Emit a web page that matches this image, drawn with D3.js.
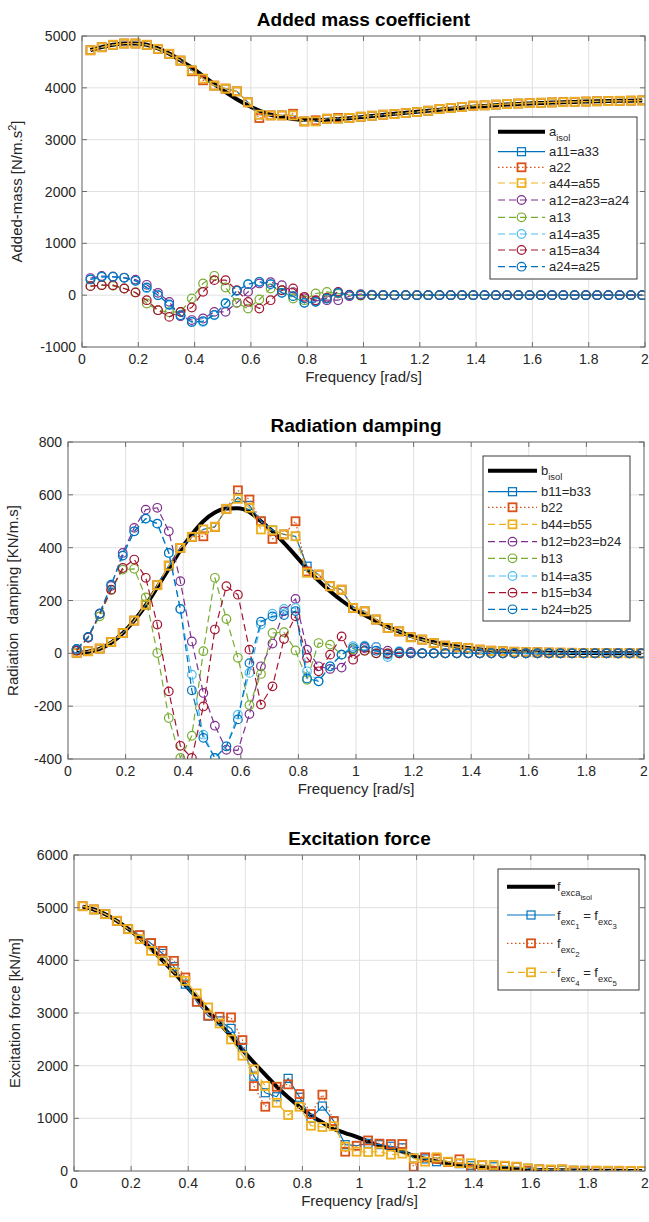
<!DOCTYPE html>
<html><head><meta charset="utf-8">
<script src="https://cdn.jsdelivr.net/npm/d3@7"></script>
<style>body{margin:0;background:#fff} svg{display:block} text{font-family:"Liberation Sans",Arial,Helvetica,sans-serif;fill:#262626}</style>
</head><body><svg id="c" width="649" height="1222"></svg>
<script>
// ---------- DATA ----------
const freq = [0.03,0.07,0.11,0.15,0.19,0.23,0.27,0.31,0.35,0.39,0.43,0.47,0.51,0.55,0.59,0.63,0.67,0.71,0.75,0.79,0.83,0.87,0.91,0.95,0.99,1.03,1.07,1.11,1.15,1.19,1.23,1.27,1.31,1.35,1.39,1.43,1.47,1.51,1.55,1.59,1.63,1.67,1.71,1.75,1.79,1.83,1.87,1.91,1.95,1.99];
const xTicks = [0,0.2,0.4,0.6,0.8,1,1.2,1.4,1.6,1.8,2];

// Added mass
const aIsol = [4730,4785,4830,4855,4855,4830,4760,4660,4530,4390, 4230,4070,3920,3780,3660,3560,3480,3430,3400,3385, 3380,3385,3398,3415,3435,3455,3477,3498,3518,3538, 3558,3578,3598,3616,3634,3650,3664,3677,3688,3698, 3707,3715,3722,3729,3735,3740,3745,3749,3753,3757];
const a11 = [4725,4783,4830,4855,4855,4830,4752,4656,4526,4339, 4178,4043,3985,3932,3720,3482,3468,3468,3468,3352, 3352,3404,3404,3418,3443,3462,3482,3495,3514,3534, 3559,3591,3611,3630,3656,3662,3676,3687,3697,3705, 3712,3718,3724,3730,3735,3740,3745,3749,3753,3757];
const a22 = [4725,4783,4830,4855,4855,4830,4752,4656,4526,4320, 4145,4043,3985,3932,3720,3418,3468,3468,3500,3352, 3374,3404,3420,3418,3443,3462,3482,3495,3514,3534, 3559,3591,3611,3630,3656,3662,3676,3687,3697,3705, 3712,3718,3724,3730,3735,3740,3745,3749,3753,3757];
const a44 = [4725,4783,4830,4855,4855,4830,4752,4656,4526,4339, 4178,4043,3985,3932,3720,3482,3468,3468,3468,3352, 3352,3404,3404,3418,3443,3462,3482,3495,3514,3534, 3559,3591,3611,3630,3656,3662,3676,3687,3697,3705, 3712,3718,3724,3730,3735,3740,3745,3749,3753,3757];
const a12 = [330,370,360,340,300,200,45,-129,-406,-480, -450,-322,-322,-148,64,226,250,193,60,-60, -110,-97,-97,-20,20,10,5,0,0,0, 0,0,0,0,0,0,0,0,0,0, 0,0,0,0,0,0,0,0,0,0];
const a13 = [174,193,180,129,52,-161,-290,-330,-322,-64, 226,374,148,-148,-258,-84,129,96,-64,-97, 32,64,30,0,-10,5,0,0,0,0, 0,0,0,0,0,0,0,0,0,0, 0,0,0,0,0,0,0,0,0,0];
const a14 = [303,354,354,335,277,135,0,-193,-387,-516, -516,-387,-148,84,213,258,213,45,-19,-148, -129,-64,45,0,10,0,0,0,0,0, 0,0,0,0,0,0,0,0,0,0, 0,0,0,0,0,0,0,0,0,0];
const a15 = [174,193,193,129,52,-97,-290,-419,-322,-238, 64,290,290,96,-129,-258,-97,96,129,-32, -97,-50,64,10,0,0,0,0,0,0, 0,0,0,0,0,0,0,0,0,0, 0,0,0,0,0,0,0,0,0,0];
const a24 = [303,354,354,335,277,150,0,-180,-387,-516, -500,-380,-160,84,213,258,213,45,-19,-148, -129,-64,45,0,10,0,0,0,0,0, 0,0,0,0,0,0,0,0,0,0, 0,0,0,0,0,0,0,0,0,0];
const aTicks = [-1000,0,1000,2000,3000,4000,5000];

// Radiation damping
const bIsol = [1,6,17,40,76,124,182,250,320,390, 450,500,533,548,549,535,500,462,418,370, 320,275,235,200,170,145,122,100,82,66, 53,42,33,26,20,15,11,8,6,4.5, 3.5,2.5,2,1.5,1,1,0.5,0.5,0,0];
const b11 = [2,8,18,43,77,124,184,258,332,399, 441,469,479,547,590,560,500,466,450,443, 330,298,254,241,172,159,128,96,83,61, 52,39,29,24,20,14,10,8,6,5, 4,3,2.5,2,1.5,1,1,0.5,0.5,0];
const b22 = [2,8,18,43,77,124,184,258,332,399, 441,443,479,547,617,582,500,433,450,500, 310,298,254,241,172,159,128,96,83,61, 52,39,29,24,20,14,10,8,6,5, 4,3,2.5,2,1.5,1,1,0.5,0.5,0];
const b44 = [2,8,18,43,77,124,184,258,332,399, 441,469,479,547,585,551,469,466,450,443, 305,298,254,241,172,159,128,96,83,61, 52,39,29,24,20,14,10,8,6,5, 4,3,2.5,2,1.5,1,1,0.5,0.5,0];
const b12 = [15,60,150,255,380,475,544,551,462,273, 45,-150,-274,-365,-367,-230,-49,37,159,206, 14,-49,-59,-54,10,20,24,10,0,5, 0,0,0,0,0,0,0,0,0,0, 0,0,0,0,0,0,0,0,0,0];
const b13 = [10,60,140,240,317,320,212,1,-245,-396, -312,8,286,130,-17,-196,-78,77,80,11, -100,39,33,-5,15,10,0,0,0,0, 0,0,0,0,0,0,0,0,0,0, 0,0,0,0,0,0,0,0,0,0];
const b14 = [17,62,150,260,370,462,510,491,380,168, -81,-308,-396,-352,-232,-74,109,150,168,172, -68,-106,-49,-5,27,29,24,-14,8,0, 0,0,0,0,0,0,0,0,0,0, 0,0,0,0,0,0,0,0,0,0];
const b15 = [10,60,150,241,323,355,286,109,-144,-350, -396,-201,90,254,222,14,-194,-125,54,140, -17,-68,-5,64,-24,10,0,0,0,0, 0,0,0,0,0,0,0,0,0,0, 0,0,0,0,0,0,0,0,0,0];
const b24 = [17,62,150,260,370,462,510,491,380,168, -140,-320,-396,-352,-250,-37,120,140,145,160, -95,-106,-49,-5,20,25,10,-5,5,0, 0,0,0,0,0,0,0,0,0,0, 0,0,0,0,0,0,0,0,0,0];
const bTicks = [-400,-200,0,200,400,600,800];

// Excitation force
const fIsol = [5020,4965,4875,4750,4600,4420,4220,4000,3770,3530, 3290,3040,2800,2560,2300,2060,1830,1600,1400,1220, 1050,920,800,720,650,560,480,420,370,290, 230,180,145,115,90,70,55,43,34,27, 21,16,12,9,7,5,4,3,2,2];
const fExc1 = [5028,4966,4877,4750,4592,4478,4320,4130,3880,3548, 3213,2941,2850,2708,2347,1800,1486,1410,1759,1400, 1000,1233,945,500,480,525,500,470,440,241, 230,177,177,140,100,114,80,90,75,51, 35,25,20,12,8,6,5,4,3,2];
const fExc2 = [5028,4966,4877,4750,4592,4478,4330,4180,3990,3675, 3213,2950,2928,2916,2486,1613,1220,1600,1645,1461, 1080,1450,950,367,480,580,520,512,512,82, 260,230,170,222,19,110,0,95,80,10, 30,20,30,5,5,4,3,3,2,2];
const fExc4 = [5028,4966,4877,4750,4592,4402,4180,3990,3770,3611, 3372,3106,2802,2499,2190,1930,1613,1296,1063,1220, 860,835,850,461,367,360,367,310,330,241, 177,260,177,150,146,114,114,101,82,51, 32,30,32,10,6,5,5,4,3,2];
const fTicks = [0,1000,2000,3000,4000,5000,6000];

// ---------- STYLE ----------
const COL = {blue:"#0072BD", orange:"#D95319", yellow:"#EDB120", purple:"#7E2F8E", green:"#77AC30", cyan:"#4DBEEE", red:"#A2142F"};
const svg = d3.select("#c");
const FONT_TICK = 14;

function seg(t, lvl){ return {t, lvl: lvl||0}; }

function drawRich(g, x, y, parts, size) {
  const t = g.append("text").attr("x", x).attr("y", y).attr("font-size", size);
  let cur = 0;
  const offs = [0, 5, 9];
  const sizes = [size, size*0.72, size*0.6];
  parts.forEach(p => {
    const dy = offs[p.lvl] - offs[cur];
    t.append("tspan").attr("dy", dy).attr("font-size", sizes[p.lvl]).text(p.t);
    cur = p.lvl;
  });
  return t;
}

function drawMarker(g, type, x, y, color, sw) {
  if (type === "square") {
    g.append("rect").attr("x", x-4).attr("y", y-4).attr("width",8).attr("height",8)
      .attr("fill","none").attr("stroke",color).attr("stroke-width",sw);
  } else if (type === "circle") {
    g.append("circle").attr("cx",x).attr("cy",y).attr("r",4.3)
      .attr("fill","none").attr("stroke",color).attr("stroke-width",sw);
  }
}

const dashOf = {solid:null, dot:"1.5,2.5", dash:"7,4"};

function drawChart(cfg, idx) {
  const x = d3.scaleLinear().domain([0,2]).range([cfg.left, cfg.right]);
  const y = d3.scaleLinear().domain(cfg.yDomain).range([cfg.bottom, cfg.top]);
  const g = svg.append("g");
  const w = cfg.right - cfg.left, h = cfg.bottom - cfg.top;
  // grid
  g.append("g").selectAll("line.gx").data(xTicks).join("line")
    .attr("x1", d=>x(d)).attr("x2", d=>x(d)).attr("y1", cfg.top).attr("y2", cfg.bottom)
    .attr("stroke","#e1e1e1").attr("stroke-width",1);
  g.append("g").selectAll("line.gy").data(cfg.yTicks).join("line")
    .attr("y1", d=>y(d)).attr("y2", d=>y(d)).attr("x1", cfg.left).attr("x2", cfg.right)
    .attr("stroke","#e1e1e1").attr("stroke-width",1);

  // clip
  const cid = "clip"+idx;
  svg.append("clipPath").attr("id",cid).append("rect")
    .attr("x",cfg.left).attr("y",cfg.top).attr("width",w).attr("height",h);
  const pg = g.append("g").attr("clip-path","url(#"+cid+")");

  cfg.series.forEach(s => {
    const line = d3.line().x((d,i)=>x(freq[i])).y(d=>y(d));
    if (s.isol) line.curve(d3.curveMonotoneX);
    pg.append("path").datum(s.data).attr("d", line)
      .attr("fill","none").attr("stroke", s.color).attr("stroke-width", s.width)
      .attr("stroke-dasharray", dashOf[s.style]).attr("stroke-linejoin","round");
    if (s.marker) {
      const mg = pg.append("g");
      s.data.forEach((d,i)=> drawMarker(mg, s.marker, x(freq[i]), y(d), s.color, s.msw));
    }
  });

  // axes box
  g.append("rect").attr("x",cfg.left).attr("y",cfg.top).attr("width",w).attr("height",h)
    .attr("fill","none").attr("stroke","#6e6e6e").attr("stroke-width",1);
  // ticks inside, both sides
  const tl = 5;
  xTicks.forEach(t => {
    g.append("line").attr("x1",x(t)).attr("x2",x(t)).attr("y1",cfg.bottom).attr("y2",cfg.bottom-tl).attr("stroke","#6e6e6e");
    g.append("line").attr("x1",x(t)).attr("x2",x(t)).attr("y1",cfg.top).attr("y2",cfg.top+tl).attr("stroke","#6e6e6e");
  });
  cfg.yTicks.forEach(t => {
    g.append("line").attr("y1",y(t)).attr("y2",y(t)).attr("x1",cfg.left).attr("x2",cfg.left+tl).attr("stroke","#6e6e6e");
    g.append("line").attr("y1",y(t)).attr("y2",y(t)).attr("x1",cfg.right).attr("x2",cfg.right-tl).attr("stroke","#6e6e6e");
  });
  // tick labels
  g.append("g").selectAll("text").data(xTicks).join("text")
    .attr("x", d=>x(d)).attr("y", cfg.bottom+17).attr("text-anchor","middle")
    .attr("font-size",FONT_TICK).text(d=>String(d));
  g.append("g").selectAll("text").data(cfg.yTicks).join("text")
    .attr("x", cfg.left-6).attr("y", d=>y(d)+5).attr("text-anchor","end")
    .attr("font-size",FONT_TICK).text(d=>String(d));

  // title
  g.append("text").attr("x",(cfg.left+cfg.right)/2).attr("y",cfg.top-10)
    .attr("text-anchor","middle").attr("font-size",19).attr("font-weight","bold")
    .style("fill","#000").text(cfg.title);
  // x label
  g.append("text").attr("x",(cfg.left+cfg.right)/2).attr("y",cfg.bottom+35)
    .attr("text-anchor","middle").attr("font-size",15).text("Frequency [rad/s]");
  // y label
  const yl = g.append("text").attr("transform",`translate(${cfg.ylabX},${(cfg.top+cfg.bottom)/2}) rotate(-90)`)
    .attr("text-anchor","middle").attr("font-size",15).attr("xml:space","preserve");
  cfg.ylab.forEach(p => {
    const ts = yl.append("tspan").text(p.t);
    if (p.sup) ts.attr("dy",-6).attr("font-size",11);
    else if (p.back) ts.attr("dy",6);
  });

  // legend
  const L = cfg.legend;
  const lg = g.append("g");
  lg.append("rect").attr("x",L.x).attr("y",L.y).attr("width",L.w).attr("height",L.h)
    .attr("fill","#fff").attr("stroke","#3a3a3a").attr("stroke-width",1);
  cfg.series.forEach((s,i) => {
    const ry = L.rows[i];
    lg.append("line").attr("x1",L.sx0).attr("x2",L.sx1).attr("y1",ry).attr("y2",ry)
      .attr("stroke",s.color).attr("stroke-width",s.width).attr("stroke-dasharray",dashOf[s.style]);
    if (s.marker) drawMarker(lg, s.marker, (L.sx0+L.sx1)/2, ry, s.color, s.msw);
    drawRich(lg, L.tx, ry + (L.tOff||4.5), s.label, 13);
  });
}

const mk = (data,color,style,marker,label,extra) => Object.assign({data,color,style,marker,label,width:1.2,msw:1.2}, extra||{});

const chart1 = {
  left:82, right:645, top:36, bottom:347, yDomain:[-1000,5000], yTicks:aTicks,
  title:"Added mass coefficient", ylabX:22,
  ylab:[{t:"Added-mass [N/m.s"},{t:"2",sup:true},{t:"]",back:true}],
  series:[
    mk(aIsol,"#000","solid",null,[seg("a"),seg("isol",1)],{width:4,isol:true}),
    mk(a11,COL.blue,"solid","square",[seg("a11=a33")]),
    mk(a22,COL.orange,"dot","square",[seg("a22")],{msw:1.8}),
    mk(a44,COL.yellow,"dash","square",[seg("a44=a55")],{msw:1.8}),
    mk(a12,COL.purple,"dash","circle",[seg("a12=a23=a24")]),
    mk(a13,COL.green,"dash","circle",[seg("a13")]),
    mk(a14,COL.cyan,"dash","circle",[seg("a14=a35")]),
    mk(a15,COL.red,"dash","circle",[seg("a15=a34")]),
    mk(a24,COL.blue,"dash","circle",[seg("a24=a25")])
  ],
  legend:{x:490,y:117,w:147,h:162,sx0:498,sx1:545,tx:549,rows:[131.7,151.7,167.3,183,200,217.3,234,250,266.7],tOff:4.5}
};
const chart2 = {
  left:68, right:644, top:442, bottom:759, yDomain:[-400,800], yTicks:bTicks,
  title:"Radiation damping", ylabX:18,
  ylab:[{t:"Radiation  damping [KN/m.s]"}],
  series:[
    mk(bIsol,"#000","solid",null,[seg("b"),seg("isol",1)],{width:4,isol:true}),
    mk(b11,COL.blue,"solid","square",[seg("b11=b33")]),
    mk(b22,COL.orange,"dot","square",[seg("b22")],{msw:1.8}),
    mk(b44,COL.yellow,"dash","square",[seg("b44=b55")],{msw:1.8}),
    mk(b12,COL.purple,"dash","circle",[seg("b12=b23=b24")]),
    mk(b13,COL.green,"dash","circle",[seg("b13")]),
    mk(b14,COL.cyan,"dash","circle",[seg("b14=a35")]),
    mk(b15,COL.red,"dash","circle",[seg("b15=b34")]),
    mk(b24,COL.blue,"dash","circle",[seg("b24=b25")])
  ],
  legend:{x:483,y:456,w:147,h:165,sx0:488,sx1:537,tx:541,rows:[470.7,491.7,507.3,524.3,541.7,558.3,576,592.7,609.3],tOff:4.5}
};
const chart3 = {
  left:74, right:645, top:855, bottom:1171, yDomain:[0,6000], yTicks:fTicks,
  title:"Excitation force", ylabX:20,
  ylab:[{t:"Excitation force [kN/m]"}],
  series:[
    mk(fIsol,"#000","solid",null,[seg("f"),seg("exca",1),seg("isol",2)],{width:4,isol:true}),
    mk(fExc1,COL.blue,"solid","square",[seg("f"),seg("exc",1),seg("1",2),seg(" = f"),seg("exc",1),seg("3",2)]),
    mk(fExc2,COL.orange,"dot","square",[seg("f"),seg("exc",1),seg("2",2)],{msw:1.8}),
    mk(fExc4,COL.yellow,"dash","square",[seg("f"),seg("exc",1),seg("4",2),seg(" = f"),seg("exc",1),seg("5",2)],{msw:1.8})
  ],
  legend:{x:498,y:869,w:141,h:121,sx0:507,sx1:555,tx:557,rows:[886.7,915,943.3,972.3],tOff:0}
};

[chart1, chart2, chart3].forEach((c,i)=>drawChart(c,i));
</script>
</body></html>
